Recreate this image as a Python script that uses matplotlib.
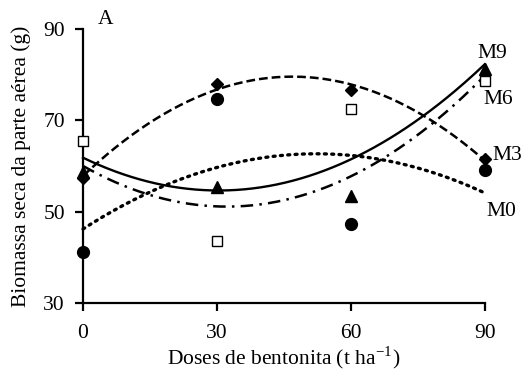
import numpy as np
import matplotlib
matplotlib.use("Agg")
import matplotlib.pyplot as plt

plt.rcParams['font.family'] = ['Liberation Serif', 'DejaVu Serif']
plt.rcParams['mathtext.fontset'] = 'stix'

# doses de bentonita (t/ha)
doses = [0, 30, 60, 90]

# biomassa seca da parte aerea (g)
m0 = [41.2, 74.7, 47.3, 59.1]
m3 = [57.4, 78.0, 76.6, 61.6]
m6 = [65.5, 43.6, 72.5, 78.6]
m9 = [58.6, 55.4, 53.5, 81.2]

series_names = ['M0', 'M3', 'M6', 'M9']
tick_x = [0, 30, 60, 90]
tick_y = [30, 50, 70, 90]

fs = 15.5

fig = plt.figure(figsize=(5.27, 3.76), dpi=100)
ax = fig.add_axes([0.1575, 0.194, 0.7625, 0.729])

xx = np.linspace(0, 90, 200)

# estilo das linhas de tendencia e dos marcadores, como na figura original
styles = {
    'M0': dict(marker='o', ms=8.5, mfc='black', ls=(0, (0.6, 1.6)), lw=2.4, dash_capstyle='round'),
    'M3': dict(marker='D', ms=6.5, mfc='black', ls=(0, (3.5, 1.6)), lw=1.8),
    'M6': dict(marker='s', ms=7.5, mfc='white', ls='-', lw=1.7),
    'M9': dict(marker='^', ms=8, mfc='black', ls=(0, (5, 2.5, 1, 2.5)), lw=1.8),
}
data = {'M0': m0, 'M3': m3, 'M6': m6, 'M9': m9}

for name in series_names:
    st = styles[name]
    y = data[name]
    coef = np.polyfit(doses, y, 2)
    ax.plot(xx, np.polyval(coef, xx), color='black', ls=st['ls'], lw=st['lw'],
            dash_capstyle=st.get('dash_capstyle', 'butt'), clip_on=False, zorder=2)
    ax.plot(doses, y, ls='none', marker=st['marker'], ms=st['ms'], mfc=st['mfc'],
            mec='black', mew=1.0, clip_on=False, zorder=3)

# rotulos das curvas
ax.text(88.4, 84.7, 'M9', fontsize=fs, va='center', ha='left')
ax.text(89.6, 74.5, 'M6', fontsize=fs, va='center', ha='left')
ax.text(91.6, 62.2, 'M3', fontsize=fs, va='center', ha='left')
ax.text(90.4, 50.1, 'M0', fontsize=fs, va='center', ha='left')
ax.text(3.3, 92.0, 'A', fontsize=fs, va='center', ha='left')

ax.set_xlim(0, 90)
ax.set_ylim(30, 90)
ax.set_xticks(tick_x)
ax.set_yticks(tick_y)
ax.spines['top'].set_visible(False)
ax.spines['right'].set_visible(False)
ax.spines['left'].set_linewidth(1.6)
ax.spines['bottom'].set_linewidth(1.6)
ax.tick_params(axis='both', direction='out', length=6, width=1.6, labelsize=fs)
ax.tick_params(axis='y', pad=7)
ax.tick_params(axis='x', pad=9)

ax.set_xlabel('Doses de bentonita (t ha$^{\\mathregular{-1}}$)', fontsize=fs, labelpad=1)
ax.set_ylabel('Biomassa seca da parte aérea (g)', fontsize=fs, labelpad=9)

fig.savefig('out.png', dpi=100)
